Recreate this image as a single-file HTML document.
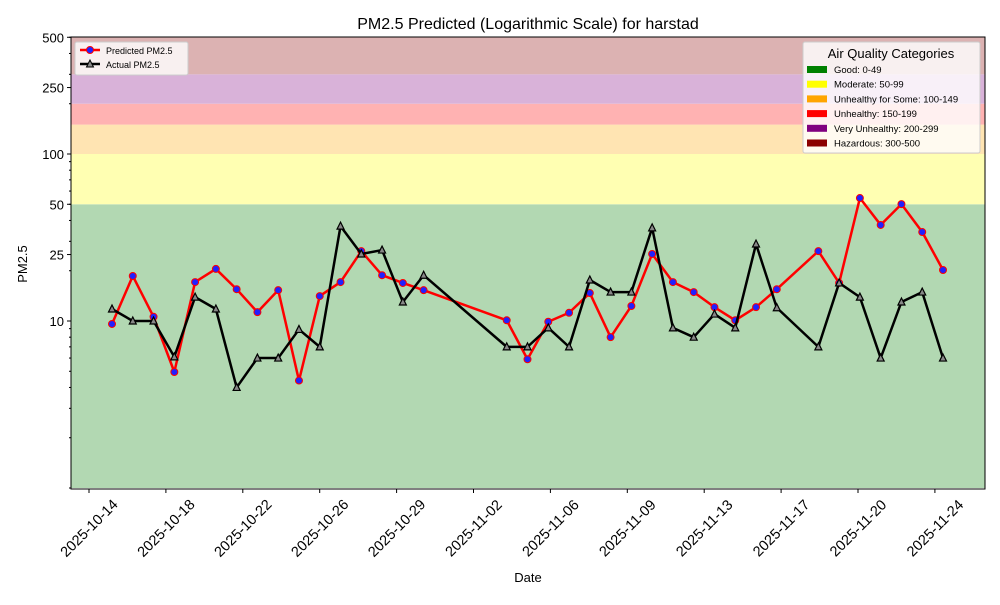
<!DOCTYPE html>
<html><head><meta charset="utf-8"><style>
body{margin:0;background:#fff;font-family:"Liberation Sans",sans-serif}
svg text{font-family:"Liberation Sans",sans-serif}
</style></head><body>
<svg id="chart" width="1000" height="600"></svg>
<script>
const dates=["2025-10-15","2025-10-16","2025-10-17","2025-10-18","2025-10-19","2025-10-20","2025-10-21","2025-10-22","2025-10-23","2025-10-24","2025-10-25","2025-10-26","2025-10-27","2025-10-28","2025-10-29","2025-10-30","2025-11-03","2025-11-04","2025-11-05","2025-11-06","2025-11-07","2025-11-08","2025-11-09","2025-11-10","2025-11-11","2025-11-12","2025-11-13","2025-11-14","2025-11-15","2025-11-16","2025-11-18","2025-11-19","2025-11-20","2025-11-21","2025-11-22","2025-11-23","2025-11-24"];
const predicted=[9.6,18.6,10.6,4.95,17.1,20.5,15.5,11.3,15.3,4.4,14.1,17.1,26.2,18.8,16.9,15.3,10.1,5.9,9.9,11.2,14.7,8.0,12.3,25.2,17.1,14.9,12.1,10.1,12.1,15.5,26.2,16.9,54.5,37.6,50.1,34.1,20.2];
const actual=[11.8,10,10,6.1,13.9,11.8,4.0,6.0,6.0,8.9,7.0,37.0,25.2,26.6,13.0,18.8,7.0,7.0,9.1,7.0,17.6,14.9,14.9,36.1,9.1,8.0,11.0,9.1,28.9,12.0,7.0,16.9,13.9,6.0,13.0,14.9,6.0];
const xTicks=["2025-10-14","2025-10-18","2025-10-22","2025-10-26","2025-10-29","2025-11-02","2025-11-06","2025-11-09","2025-11-13","2025-11-17","2025-11-20","2025-11-24"];
const yTicks=[10,25,50,100,250,500];
const bandEdges=[1,50,100,150,200,300,500];
const bandColors=["rgb(178,216,178)","rgb(255,255,178)","rgb(255,228,178)","rgb(255,178,178)","rgb(217,178,217)","rgb(220,178,178)"];
const catNames=["Good: 0-49","Moderate: 50-99","Unhealthy for Some: 100-149","Unhealthy: 150-199","Very Unhealthy: 200-299","Hazardous: 300-500"];
const catColors=["#008000","#ffff00","#ffa500","#ff0000","#800080","#8b0000"];

const L=71,R=985,T=37,B=489;
const d0=Date.parse("2025-10-15T00:00:00Z"),day=86400000;
const x=d=>112+(Date.parse(d+"T00:00:00Z")-d0)/day*20.775;
const xt=i=>89+i*76.9;
const y=v=>321-167*Math.log10(v/10);
const svg=document.getElementById('chart');const NS="http://www.w3.org/2000/svg";
function mk(tag,attrs,parent){const e=document.createElementNS(NS,tag);for(const k in attrs)e.setAttribute(k,attrs[k]);(parent||svg).appendChild(e);return e;}

const bands=mk('g',{});


for(let i=0;i<6;i++){
  const r=mk('rect',{x:L,y:y(bandEdges[i+1]),width:R-L,height:y(bandEdges[i])-y(bandEdges[i+1]),fill:bandColors[i]},bands);
  
  
}
const ax=mk('g',{});


xTicks.forEach((d,i)=>{const X=xt(i);mk('line',{x1:X,x2:X,y1:B,y2:B+4,stroke:'#000'},ax);
 const tx=mk('text',{x:X,y:B+44,'font-size':14.5,'text-anchor':'middle',transform:`rotate(-45 ${X} ${B+39})`},ax);tx.textContent=d;});
const ay=mk('g',{});


for(let dec=1;dec<=100;dec*=10)for(let m=1;m<10;m++){const v=m*dec;if(v<1||v>500)continue;mk('line',{x1:L-2,x2:L,y1:y(v),y2:y(v),stroke:'#000'},ay);}
yTicks.forEach(v=>{mk('line',{x1:L-4,x2:L,y1:y(v),y2:y(v),stroke:'#000'},ay);const t=mk('text',{x:L-7,y:y(v)+5,'font-size':13,'text-anchor':'end'},ay);t.textContent=v;});
mk('rect',{x:L,y:T,width:R-L,height:B-T,fill:'none',stroke:'#000','stroke-width':1});
function series(vals,color,name,marker){
  const g=mk('g',{});
  
  
  mk('polyline',{points:vals.map((v,i)=>x(dates[i])+','+y(v)).join(' '),fill:'none',stroke:color,'stroke-width':2.5,'stroke-linejoin':'round'},g);
  vals.forEach((v,i)=>{const X=x(dates[i]),Y=y(v);
    const p= marker==='c'?mk('circle',{cx:X,cy:Y,r:3.5,fill:'#2020ff',stroke:'#ff0000','stroke-width':1},g)
      :mk('polygon',{points:`${X},${Y-4} ${X-3.5},${Y+3} ${X+3.5},${Y+3}`,fill:'#888',stroke:'#000','stroke-width':1.2},g);
    
    });
}
series(predicted,'#ff0000','predicted-series','c');
series(actual,'#000','actual-series','t');
let t=mk('text',{x:528,y:29,'font-size':16,'text-anchor':'middle'});t.textContent='PM2.5 Predicted (Logarithmic Scale) for harstad';

t=mk('text',{x:528,y:582,'font-size':13,'text-anchor':'middle'});t.textContent='Date';

t=mk('text',{x:27,y:264,'font-size':13,'text-anchor':'middle',transform:'rotate(-90 27 264)'});t.textContent='PM2.5';

const lg=mk('g',{});


mk('rect',{x:75,y:42,width:113,height:33,rx:2,fill:'rgba(255,255,255,0.8)',stroke:'#ccc'},lg);
mk('line',{x1:80,x2:100,y1:50,y2:50,stroke:'#f00','stroke-width':2.5},lg);mk('circle',{cx:90,cy:50,r:3.5,fill:'#2020ff',stroke:'#f00'},lg);
t=mk('text',{x:106,y:54,'font-size':9},lg);t.textContent='Predicted PM2.5';
mk('line',{x1:80,x2:100,y1:64,y2:64,stroke:'#000','stroke-width':2.5},lg);mk('polygon',{points:'90,60 86.5,67 93.5,67',fill:'#888',stroke:'#000'},lg);
t=mk('text',{x:106,y:68,'font-size':9},lg);t.textContent='Actual PM2.5';
const lc=mk('g',{});


mk('rect',{x:803,y:42,width:177,height:111,rx:2,fill:'rgba(255,255,255,0.8)',stroke:'#ccc'},lc);
t=mk('text',{x:891,y:58,'font-size':13,'text-anchor':'middle'},lc);t.textContent='Air Quality Categories';
catNames.forEach((n,i)=>{const Y=66+i*14.7;mk('rect',{x:807,y:Y,width:20,height:7,fill:catColors[i]},lc);
 const tt=mk('text',{x:834,y:Y+7,'font-size':9.5},lc);tt.textContent=n;});
</script>
</body></html>
